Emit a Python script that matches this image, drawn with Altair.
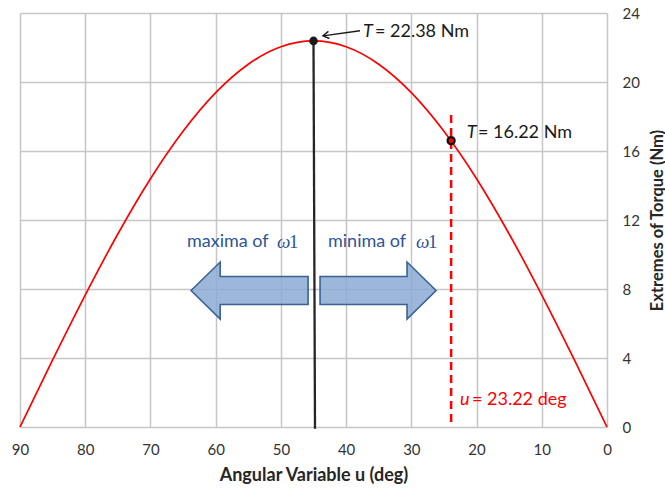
import altair as alt
import pandas as pd

# ---- data ----
u_vals = [0, 5, 10, 15, 20, 25, 30, 35, 40, 45, 50, 55, 60, 65, 70, 75, 80, 85, 90]
torque = [0, 3.89, 7.65, 11.19, 14.39, 17.14, 19.38, 21.03, 22.04, 22.38,
          22.04, 21.03, 19.38, 17.14, 14.39, 11.19, 7.65, 3.89, 0]
peak_u, peak_T = [45], [22.38]
mark_u, mark_T = [23.9], [16.6]
x_ticks = [90, 80, 70, 60, 50, 40, 30, 20, 10, 0]
y_ticks = [0, 4, 8, 12, 16, 20, 24]

FONT = "Lato"
SERIF = "Liberation Serif"
RED = "#FF0000"
BLUE_TXT = "#2F5597"

x_scale = alt.Scale(domain=[0, 90], reverse=True, nice=False, zero=False)
y_scale = alt.Scale(domain=[0, 24], nice=False, zero=False)

x_axis = alt.Axis(values=x_ticks, title="Angular Variable u (deg)", grid=True,
                  domain=False, ticks=False, tickSize=0, labelPadding=15,
                  labelFlush=False, labelOverlap=False, labelFont=FONT,
                  labelFontSize=15, labelColor="#333333", titleFont=FONT,
                  titleFontSize=18, titleFontWeight="bold", titleColor="#262626",
                  titleY=48, titleBaseline="middle", format="d")
y_axis = alt.Axis(values=y_ticks, orient="right", title="Extremes of Torque (Nm)",
                  grid=True, domain=False, ticks=False, tickSize=0, labelPadding=15,
                  labelAlign="left", labelFlush=False, labelOverlap=False,
                  labelFont=FONT, labelFontSize=15, labelColor="#333333",
                  titleFont=FONT, titleFontSize=16.5, titleFontWeight="bold",
                  titleColor="#262626", titleAngle=270, titleX=50, titleY=207,
                  titleAlign="center", titleBaseline="middle", format="d")


def X(f="u"):
    return alt.X(f"{f}:Q", scale=x_scale, axis=x_axis)


def Y(f="T"):
    return alt.Y(f"{f}:Q", scale=y_scale, axis=y_axis)


curve_df = pd.DataFrame({"u": u_vals, "T": torque})

# block arrows (custom symbol shapes)
left_arrow = ("M -0.975 0 L -0.49 -0.475 L -0.49 -0.233 L 0.975 -0.233 "
              "L 0.975 0.233 L -0.49 0.233 L -0.49 0.475 Z")
right_arrow = ("M 0.967 0 L 0.483 -0.475 L 0.483 -0.233 L -0.967 -0.233 "
               "L -0.967 0.233 L 0.483 0.233 L 0.483 0.475 Z")

arrows = [
    alt.Chart(pd.DataFrame({"u": [54.8], "T": [7.91]})).mark_point(
        shape=left_arrow, size=14400, filled=True, fill="#8BAAD4",
        fillOpacity=0.85, stroke="#3A6294", strokeWidth=1.6, strokeOpacity=1,
        opacity=1).encode(x=X(), y=Y()),
    alt.Chart(pd.DataFrame({"u": [35.1], "T": [7.91]})).mark_point(
        shape=right_arrow, size=14400, filled=True, fill="#8BAAD4",
        fillOpacity=0.85, stroke="#3A6294", strokeWidth=1.6, strokeOpacity=1,
        opacity=1).encode(x=X(), y=Y()),
]

curve = alt.Chart(curve_df).mark_line(
    color=RED, strokeWidth=1.7, interpolate="monotone").encode(x=X(), y=Y())

dash_line = alt.Chart(pd.DataFrame({"u": mark_u, "T": [0.29], "T2": [18.26]})).mark_rule(
    color=RED, strokeWidth=2.5, strokeDash=[8, 5]).encode(x=X(), y=Y(), y2="T2:Q")

black_line = alt.Chart(pd.DataFrame({"u": peak_u, "T": peak_T, "u2": [44.77], "T2": [-0.1]})).mark_rule(
    color="#262626", strokeWidth=2.3).encode(x=X(), y=Y(), x2="u2:Q", y2="T2:Q")

peak_dot = alt.Chart(pd.DataFrame({"u": peak_u, "T": peak_T})).mark_point(
    filled=True, color="#1A1A1A", size=75, opacity=1).encode(x=X(), y=Y())

mark_dot = alt.Chart(pd.DataFrame({"u": mark_u, "T": mark_T})).mark_point(
    filled=True, fill=RED, stroke="#111111", strokeWidth=2.2, size=50,
    opacity=1).encode(x=X(), y=Y())

# annotation arrow from peak label
ann_line = alt.Chart(pd.DataFrame({"u": [37.87], "T": [22.97], "u2": [43.55], "T2": [22.68]})).mark_rule(
    color="#1A1A1A", strokeWidth=1.3).encode(x=X(), y=Y(), x2="u2:Q", y2="T2:Q")
ann_head = alt.Chart(pd.DataFrame({"u": [43.55], "T": [22.68]})).mark_point(
    shape="M 2 -1.2 L 0 0 L 2 1.2", size=36, filled=False, stroke="#1A1A1A",
    strokeWidth=1.4, angle=352, opacity=1).encode(x=X(), y=Y())


def label(u, t, text, color="#1A1A1A", font=FONT, size=18, style="normal"):
    return alt.Chart(pd.DataFrame({"u": [u], "T": [t], "txt": [text]})).mark_text(
        align="left", baseline="middle", font=font, fontSize=size,
        fontStyle=style, color=color).encode(x=X(), y=Y(), text="txt:N")


texts = [
    label(37.4, 22.92, "T", style="italic"),
    label(35.57, 22.92, "= 22.38 Nm"),
    label(21.5, 17.06, "T", style="italic"),
    label(19.78, 17.06, "= 16.22 Nm"),
    label(64.4, 10.74, "maxima of", color=BLUE_TXT),
    label(50.6, 10.74, "ω", color=BLUE_TXT, font=SERIF, size=19, style="italic"),
    label(48.76, 10.74, "1", color=BLUE_TXT, font=SERIF, size=19),
    label(42.78, 10.74, "minima of", color=BLUE_TXT),
    label(29.29, 10.74, "ω", color=BLUE_TXT, font=SERIF, size=19, style="italic"),
    label(27.45, 10.74, "1", color=BLUE_TXT, font=SERIF, size=19),
    label(22.54, 1.57, "u", color=RED, style="italic"),
    label(20.7, 1.57, "= 23.22 deg", color=RED),
]

chart = alt.layer(
    *arrows, curve, dash_line, black_line, ann_line, ann_head, peak_dot, mark_dot, *texts
).properties(
    width=587, height=414,
    padding={"left": 20, "top": 13, "right": 58, "bottom": 64},
    autosize=alt.AutoSizeParams(type="none"),
    background="white",
).configure_view(stroke=None).configure_axis(
    gridColor="#C6C6C6", gridWidth=1.5, gridOpacity=1
)

chart.save("out.html", embed_options={"renderer": "svg", "actions": False})
